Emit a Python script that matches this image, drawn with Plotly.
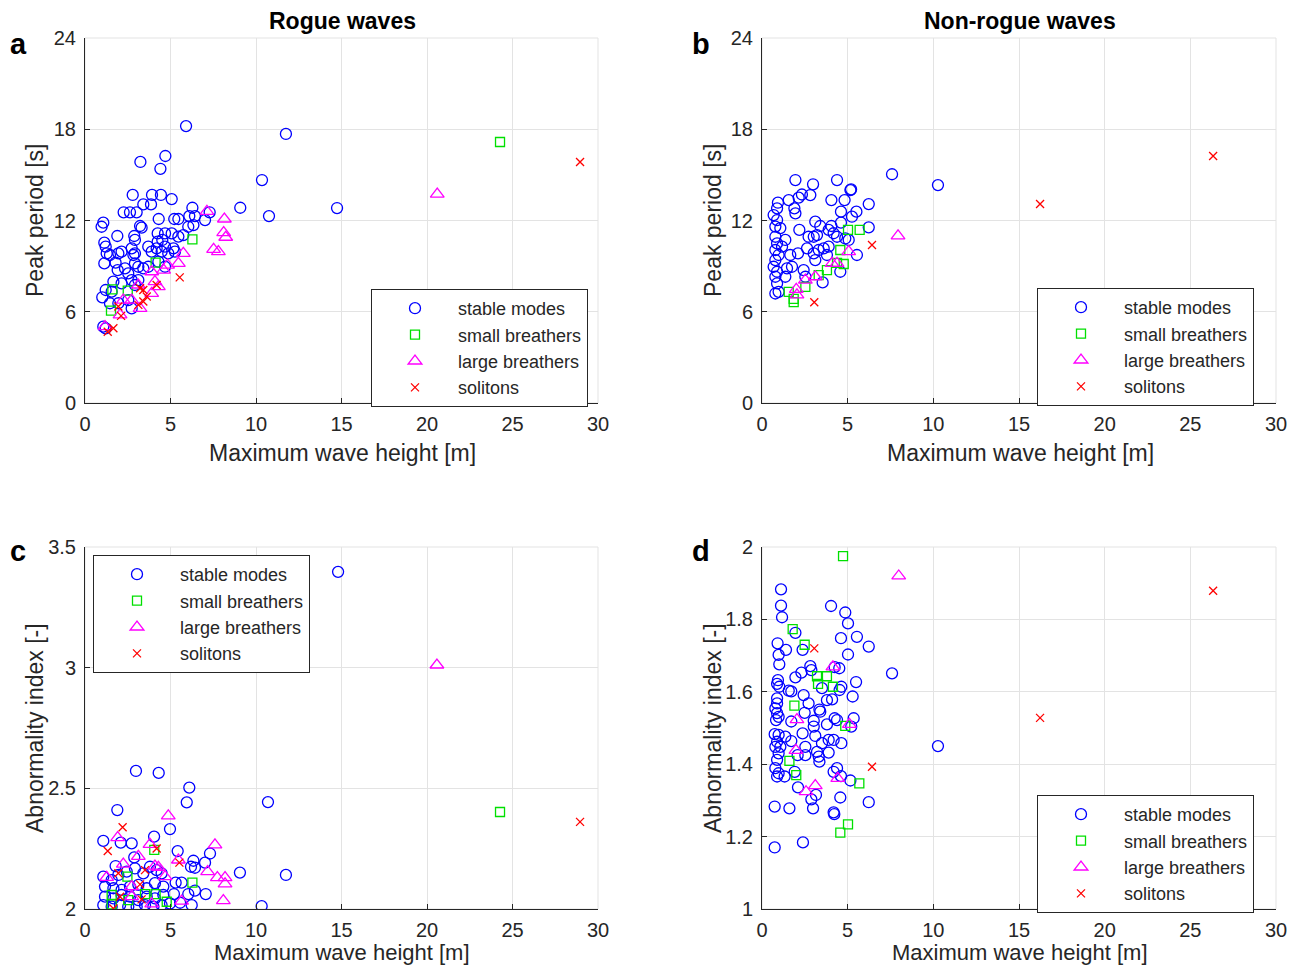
import plotly.graph_objects as go

# ---------------- data ----------------
# Panel a: Rogue waves, Peak period vs max wave height
a_stable_x = [5.91,3.24,4.70,4.41,2.79,3.92,4.44,5.07,3.41,3.86,2.26,2.63,3.02,6.28,7.29,9.08,4.31,5.22,5.46,6.10,
              6.43,7.02,1.07,0.97,3.22,3.31,6.04,6.34,1.89,2.88,2.92,4.25,4.68,5.07,5.46,5.75,4.25,4.52,1.13,1.21,
              2.14,2.73,2.92,3.70,3.90,4.19,4.68,5.17,5.26,1.27,1.46,1.95,2.83,4.48,4.87,1.13,1.79,1.91,2.34,2.92,
              3.12,3.41,3.70,4.29,4.68,2.53,1.66,2.14,2.73,2.92,3.12,1.21,1.56,1.01,1.46,1.95,2.73,2.53,1.07,1.21,
              10.35,11.75,10.76,14.74]
a_stable_y = [18.21,15.85,16.24,15.40,13.68,13.68,13.68,13.41,13.06,13.06,12.54,12.54,12.54,12.84,12.54,12.84,12.10,12.10,12.10,12.29,
              12.29,12.03,11.86,11.59,11.64,11.53,11.59,11.70,10.98,10.98,10.72,11.15,11.15,11.15,10.94,11.04,10.61,10.72,10.54,10.28,
              9.95,10.17,9.84,10.28,9.95,10.17,10.28,10.17,9.95,9.84,9.73,9.84,9.73,9.95,9.84,9.18,9.23,8.74,8.85,9.18,
              8.96,8.85,8.96,9.29,8.96,8.52,7.98,7.87,8.08,7.76,8.08,7.43,7.32,6.95,6.56,6.56,6.22,6.77,5.02,4.91,
              14.66,17.69,12.29,12.82]
a_small_x = [6.28,4.13,1.60,2.50,1.52,24.27]
a_small_y = [10.76,9.23,7.47,7.39,6.08,17.16]
a_large_x = [7.13,8.15,8.11,8.23,7.52,7.80,5.75,5.46,4.83,4.60,3.90,4.09,4.29,3.90,3.12,2.73,3.22,2.24,2.05,1.17,20.6]
a_large_y = [12.6,12.1,11.2,10.9,10.1,9.95,9.84,9.18,9.07,8.74,8.63,7.98,7.65,7.21,7.76,6.77,6.22,6.77,5.79,5.02,13.74]
a_sol_x = [5.54,4.19,3.41,3.22,3.61,3.41,3.12,1.95,2.11,1.66,1.33,28.95]
a_sol_y = [8.26,7.76,7.43,7.54,7.0,6.67,6.45,6.34,5.73,4.91,4.69,15.85]

# Panel b: Non-rogue waves, Peak period
b_stable_x = [7.59,1.95,2.98,4.38,5.16,5.20,1.56,2.33,2.82,2.14,4.05,4.82,6.23,0.93,0.88,1.89,1.95,4.61,5.51,5.25,
              0.68,0.88,3.11,3.40,4.05,4.61,6.23,2.18,0.78,1.07,2.72,3.02,3.21,3.89,4.18,4.38,4.86,5.06,0.78,0.88,
              0.78,0.97,1.36,1.17,2.63,3.02,3.31,3.60,3.89,2.10,1.65,5.54,0.78,0.68,0.88,0.78,0.88,0.97,0.78,1.46,
              1.75,1.36,2.43,2.53,3.54,4.57,3.11,3.79,10.27]
b_stable_y = [15.04,14.66,14.38,14.66,14.0,14.05,13.34,13.71,13.67,13.5,13.34,13.34,13.08,13.17,12.8,12.8,12.47,12.58,12.58,12.25,
              12.36,12.03,11.92,11.64,11.64,11.86,11.55,11.38,11.6,11.5,10.93,10.93,11.04,11.38,11.16,10.93,10.82,10.72,10.93,10.5,
              10.06,9.73,10.72,10.28,10.17,9.84,10.06,10.17,10.28,9.84,9.73,9.73,9.40,8.96,8.63,8.30,7.86,7.31,7.20,8.85,
              8.96,8.30,8.74,8.30,7.93,8.63,9.40,9.73,14.33]
b_small_x = [5.02,5.70,4.57,4.77,4.38,3.79,3.31,2.53,1.56,1.85,1.85]
b_small_y = [11.38,11.38,10.06,9.14,9.22,8.74,8.41,7.64,7.31,6.63,6.85]
b_large_x = [5.06,4.09,4.38,3.11,2.53,2.00,2.04,7.94]
b_large_y = [9.95,9.18,9.18,8.30,8.08,7.47,7.11,10.99]
b_sol_x = [6.42,3.05,16.23,26.33]
b_sol_y = [10.39,6.63,13.08,16.24]

# Panel c: Rogue waves, Abnormality index
c_stable_x = [2.98,4.31,6.10,5.95,1.89,4.97,1.07,2.09,2.73,4.04,5.42,7.31,7.02,6.34,6.20,6.43,2.88,1.79,9.06,5.30,
              5.65,6.43,6.04,7.06,5.20,10.33,1.07,1.56,1.95,2.44,2.92,3.41,3.80,4.19,4.48,1.17,1.66,2.14,2.63,3.12,
              3.61,4.09,4.58,1.17,1.66,2.14,2.63,3.12,3.61,4.09,4.58,1.07,1.56,2.05,2.53,3.02,3.51,4.00,4.48,4.97,
              5.56,6.24,14.8,10.70,11.75]
c_stable_y = [2.572,2.564,2.503,2.442,2.410,2.331,2.282,2.275,2.272,2.300,2.240,2.230,2.192,2.200,2.175,2.171,2.214,2.178,2.151,2.109,
              2.109,2.076,2.062,2.062,2.062,2.012,2.134,2.120,2.141,2.155,2.168,2.148,2.175,2.161,2.148,2.093,2.086,2.079,2.093,2.100,
              2.086,2.107,2.093,2.051,2.044,2.058,2.051,2.037,2.051,2.044,2.058,2.016,2.010,2.016,2.010,2.010,2.016,2.010,2.016,2.023,
              2.026,2.016,3.397,2.443,2.141]
c_small_x = [4.05,2.48,6.28,1.56,1.56,3.51,4.13,4.78,2.53,24.27]
c_small_y = [2.245,2.134,2.109,2.058,2.019,2.062,2.062,2.030,2.037,2.402]
c_large_x = [4.87,1.91,3.80,3.12,7.60,5.46,4.09,4.29,2.24,1.27,7.17,7.74,8.19,8.19,8.09,5.65,2.73,3.90,2.73,4.68,20.58]
c_large_y = [2.386,2.296,2.268,2.218,2.266,2.203,2.178,2.173,2.186,2.131,2.155,2.130,2.130,2.104,2.035,2.033,2.093,2.021,2.051,2.134,3.011]
c_sol_x = [2.20,1.33,4.19,5.52,3.51,1.95,3.22,2.05,3.31,1.66,28.95]
c_sol_y = [2.339,2.240,2.251,2.192,2.161,2.148,2.102,2.051,2.040,2.002,2.361]

# Panel d: Non-rogue waves, Abnormality index
d_stable_x = [1.11,1.11,1.17,4.03,4.86,5.02,1.95,4.61,5.54,0.91,1.40,2.37,6.23,0.97,5.02,1.01,2.82,2.88,2.30,4.24,
              4.51,7.59,1.95,0.93,0.88,1.01,1.56,1.71,3.50,4.63,4.53,5.49,2.43,0.88,0.88,0.78,2.72,3.79,4.09,5.29,
              3.35,3.40,2.49,0.88,0.97,0.82,1.71,3.02,4.24,4.38,5.35,3.79,5.21,3.02,2.37,0.74,0.97,1.36,3.11,3.89,
              4.18,4.63,3.50,1.71,0.88,0.78,1.07,0.97,2.53,2.08,3.21,2.53,3.89,3.31,3.35,0.88,0.78,0.97,0.88,1.91,
              1.32,4.38,4.18,4.61,5.16,2.10,3.15,2.88,4.57,0.74,1.60,2.98,6.23,4.18,4.22,2.39,0.74,10.27]
d_stable_y = [1.883,1.838,1.806,1.837,1.819,1.789,1.763,1.748,1.752,1.734,1.716,1.716,1.725,1.702,1.703,1.676,1.671,1.660,1.653,1.668,
              1.665,1.651,1.640,1.632,1.622,1.614,1.603,1.601,1.610,1.614,1.605,1.627,1.591,1.582,1.568,1.554,1.568,1.577,1.579,1.587,
              1.551,1.545,1.542,1.541,1.531,1.522,1.518,1.520,1.527,1.522,1.527,1.510,1.504,1.504,1.485,1.483,1.481,1.476,1.478,1.467,
              1.467,1.458,1.458,1.464,1.462,1.448,1.448,1.430,1.448,1.425,1.434,1.425,1.432,1.421,1.407,1.412,1.389,1.375,1.366,1.379,
              1.366,1.389,1.379,1.367,1.355,1.336,1.315,1.303,1.308,1.283,1.278,1.278,1.295,1.267,1.262,1.184,1.170,1.450]
d_small_x = [4.73,1.79,2.49,3.21,3.79,3.27,4.14,1.89,4.86,1.60,2.00,5.68,5.02,4.57]
d_small_y = [1.975,1.773,1.730,1.643,1.643,1.622,1.614,1.562,1.506,1.409,1.370,1.347,1.234,1.211]
d_large_x = [7.98,4.14,2.04,5.10,1.98,4.42,3.11,2.57]
d_large_y = [1.920,1.669,1.523,1.510,1.438,1.361,1.341,1.324]
d_sol_x = [3.05,6.42,16.23,26.33]
d_sol_y = [1.720,1.393,1.528,1.879]

class_names = ["stable modes", "small breathers", "large breathers", "solitons"]
x_ticks = [0, 5, 10, 15, 20, 25, 30]
period_ticks = [0, 6, 12, 18, 24]
abn_rogue_ticks = [2, 2.5, 3, 3.5]
abn_non_ticks = [1, 1.2, 1.4, 1.6, 1.8, 2]

# ---------------- styling ----------------
FONT = "Liberation Sans, Arial, sans-serif"
TXT = "#262626"
styles = [
    dict(symbol="circle-open", size=11, color="#0000ff", line=dict(width=1.3, color="#0000ff")),
    dict(symbol="square-open", size=9, color="#00e000", line=dict(width=1.3, color="#00e000")),
    dict(symbol="triangle-up-open", size=12, color="#ff00ff", line=dict(width=1.3, color="#ff00ff")),
    dict(symbol="x-thin-open", size=8, color="#ff0000", line=dict(width=1.3, color="#ff0000")),
]

# page has an 8px body margin; figure sized to fit the 1303x973 window exactly
OFF = 8
W, H = 1303 - 2 * OFF, 973 - 2 * OFF
def px_x(p): return (p - OFF) / W
def px_y(p): return 1 - (p - OFF) / H

panels = [
    dict(ax="", data=[(a_stable_x, a_stable_y), (a_small_x, a_small_y), (a_large_x, a_large_y), (a_sol_x, a_sol_y)],
         xd=(85, 598), yd=(38, 403), yr=[0, 24], yt=period_ticks, leg="legend", lpos=(371, 289)),
    dict(ax="2", data=[(b_stable_x, b_stable_y), (b_small_x, b_small_y), (b_large_x, b_large_y), (b_sol_x, b_sol_y)],
         xd=(762, 1276), yd=(38, 403), yr=[0, 24], yt=period_ticks, leg="legend2", lpos=(1037, 288)),
    dict(ax="3", data=[(c_stable_x, c_stable_y), (c_small_x, c_small_y), (c_large_x, c_large_y), (c_sol_x, c_sol_y)],
         xd=(85, 598), yd=(547, 909), yr=[2, 3.5], yt=abn_rogue_ticks, leg="legend3", lpos=(93, 555)),
    dict(ax="4", data=[(d_stable_x, d_stable_y), (d_small_x, d_small_y), (d_large_x, d_large_y), (d_sol_x, d_sol_y)],
         xd=(762, 1276), yd=(547, 909), yr=[1, 2], yt=abn_non_ticks, leg="legend4", lpos=(1037, 795)),
]

fig = go.Figure()
layout = dict(width=W, height=H, margin=dict(l=0, r=0, t=0, b=0, pad=0, autoexpand=False),
              paper_bgcolor="white", plot_bgcolor="white", showlegend=True,
              font=dict(family=FONT, color=TXT))
shapes = []
for p in panels:
    xa, ya = "x" + p["ax"], "y" + p["ax"]
    for (xs, ys), nm, st in zip(p["data"], class_names, styles):
        fig.add_trace(go.Scatter(x=xs, y=ys, mode="markers", name=nm, xaxis=xa, yaxis=ya,
                                 legend=p["leg"],
                                 marker=dict(symbol=st["symbol"], size=st["size"], color=st["color"],
                                             line=st["line"])))
    common = dict(showgrid=True, gridcolor="#e3e3e3", gridwidth=1, zeroline=False, automargin=False,
                  showline=True, linecolor=TXT, linewidth=1, ticks="inside", ticklen=5,
                  tickcolor=TXT, tickfont=dict(size=20, family=FONT, color=TXT))
    layout["xaxis" + p["ax"]] = dict(common, domain=[px_x(p["xd"][0]), px_x(p["xd"][1])],
                                     range=[0, 30], tickvals=x_ticks, anchor=ya, ticklabelstandoff=3)
    layout["yaxis" + p["ax"]] = dict(common, domain=[px_y(p["yd"][1]), px_y(p["yd"][0])],
                                     range=p["yr"], tickvals=p["yt"], anchor=xa, ticklabelstandoff=4)
    layout[p["leg"]] = dict(x=px_x(p["lpos"][0]), y=px_y(p["lpos"][1]), xanchor="left", yanchor="top",
                            bordercolor=TXT, borderwidth=1, bgcolor="white",
                            font=dict(size=18, family=FONT, color=TXT), tracegroupgap=0,
                            itemwidth=76)
    shapes.append(dict(type="rect", xref="paper", yref="paper",
                       x0=px_x(p["xd"][0]), x1=px_x(p["xd"][1]),
                       y0=px_y(p["yd"][1]), y1=px_y(p["yd"][0]),
                       line=dict(color="#e3e3e3", width=1), layer="below"))

annotations = []
def ann(text, xp, yp, size, bold=False, angle=0):
    annotations.append(dict(text=("<b>%s</b>" % text) if bold else text, x=px_x(xp), y=px_y(yp),
                            xref="paper", yref="paper", showarrow=False, textangle=angle,
                            xanchor="center", yanchor="middle",
                            font=dict(size=size, family=FONT, color="black" if bold else TXT)))

ann("Rogue waves", 342, 21, 23, bold=True)
ann("Non-rogue waves", 1020, 21, 23, bold=True)
ann("a", 18, 44, 29, bold=True)
ann("b", 701, 44, 29, bold=True)
ann("c", 18, 551, 29, bold=True)
ann("d", 701, 551, 29, bold=True)
for cx in (342, 1020):
    ann("Maximum wave height [m]", cx, 453, 23)
    ann("Maximum wave height [m]", cx, 952, 22)
ann("Peak period [s]", 35, 221, 23, angle=-90)
ann("Peak period [s]", 713, 221, 23, angle=-90)
ann("Abnormality index [-]", 35, 728, 23, angle=-90)
ann("Abnormality index [-]", 713, 728, 23, angle=-90)

layout["annotations"] = annotations
layout["shapes"] = shapes
fig.update_layout(**layout)
fig.write_html("out.html")
